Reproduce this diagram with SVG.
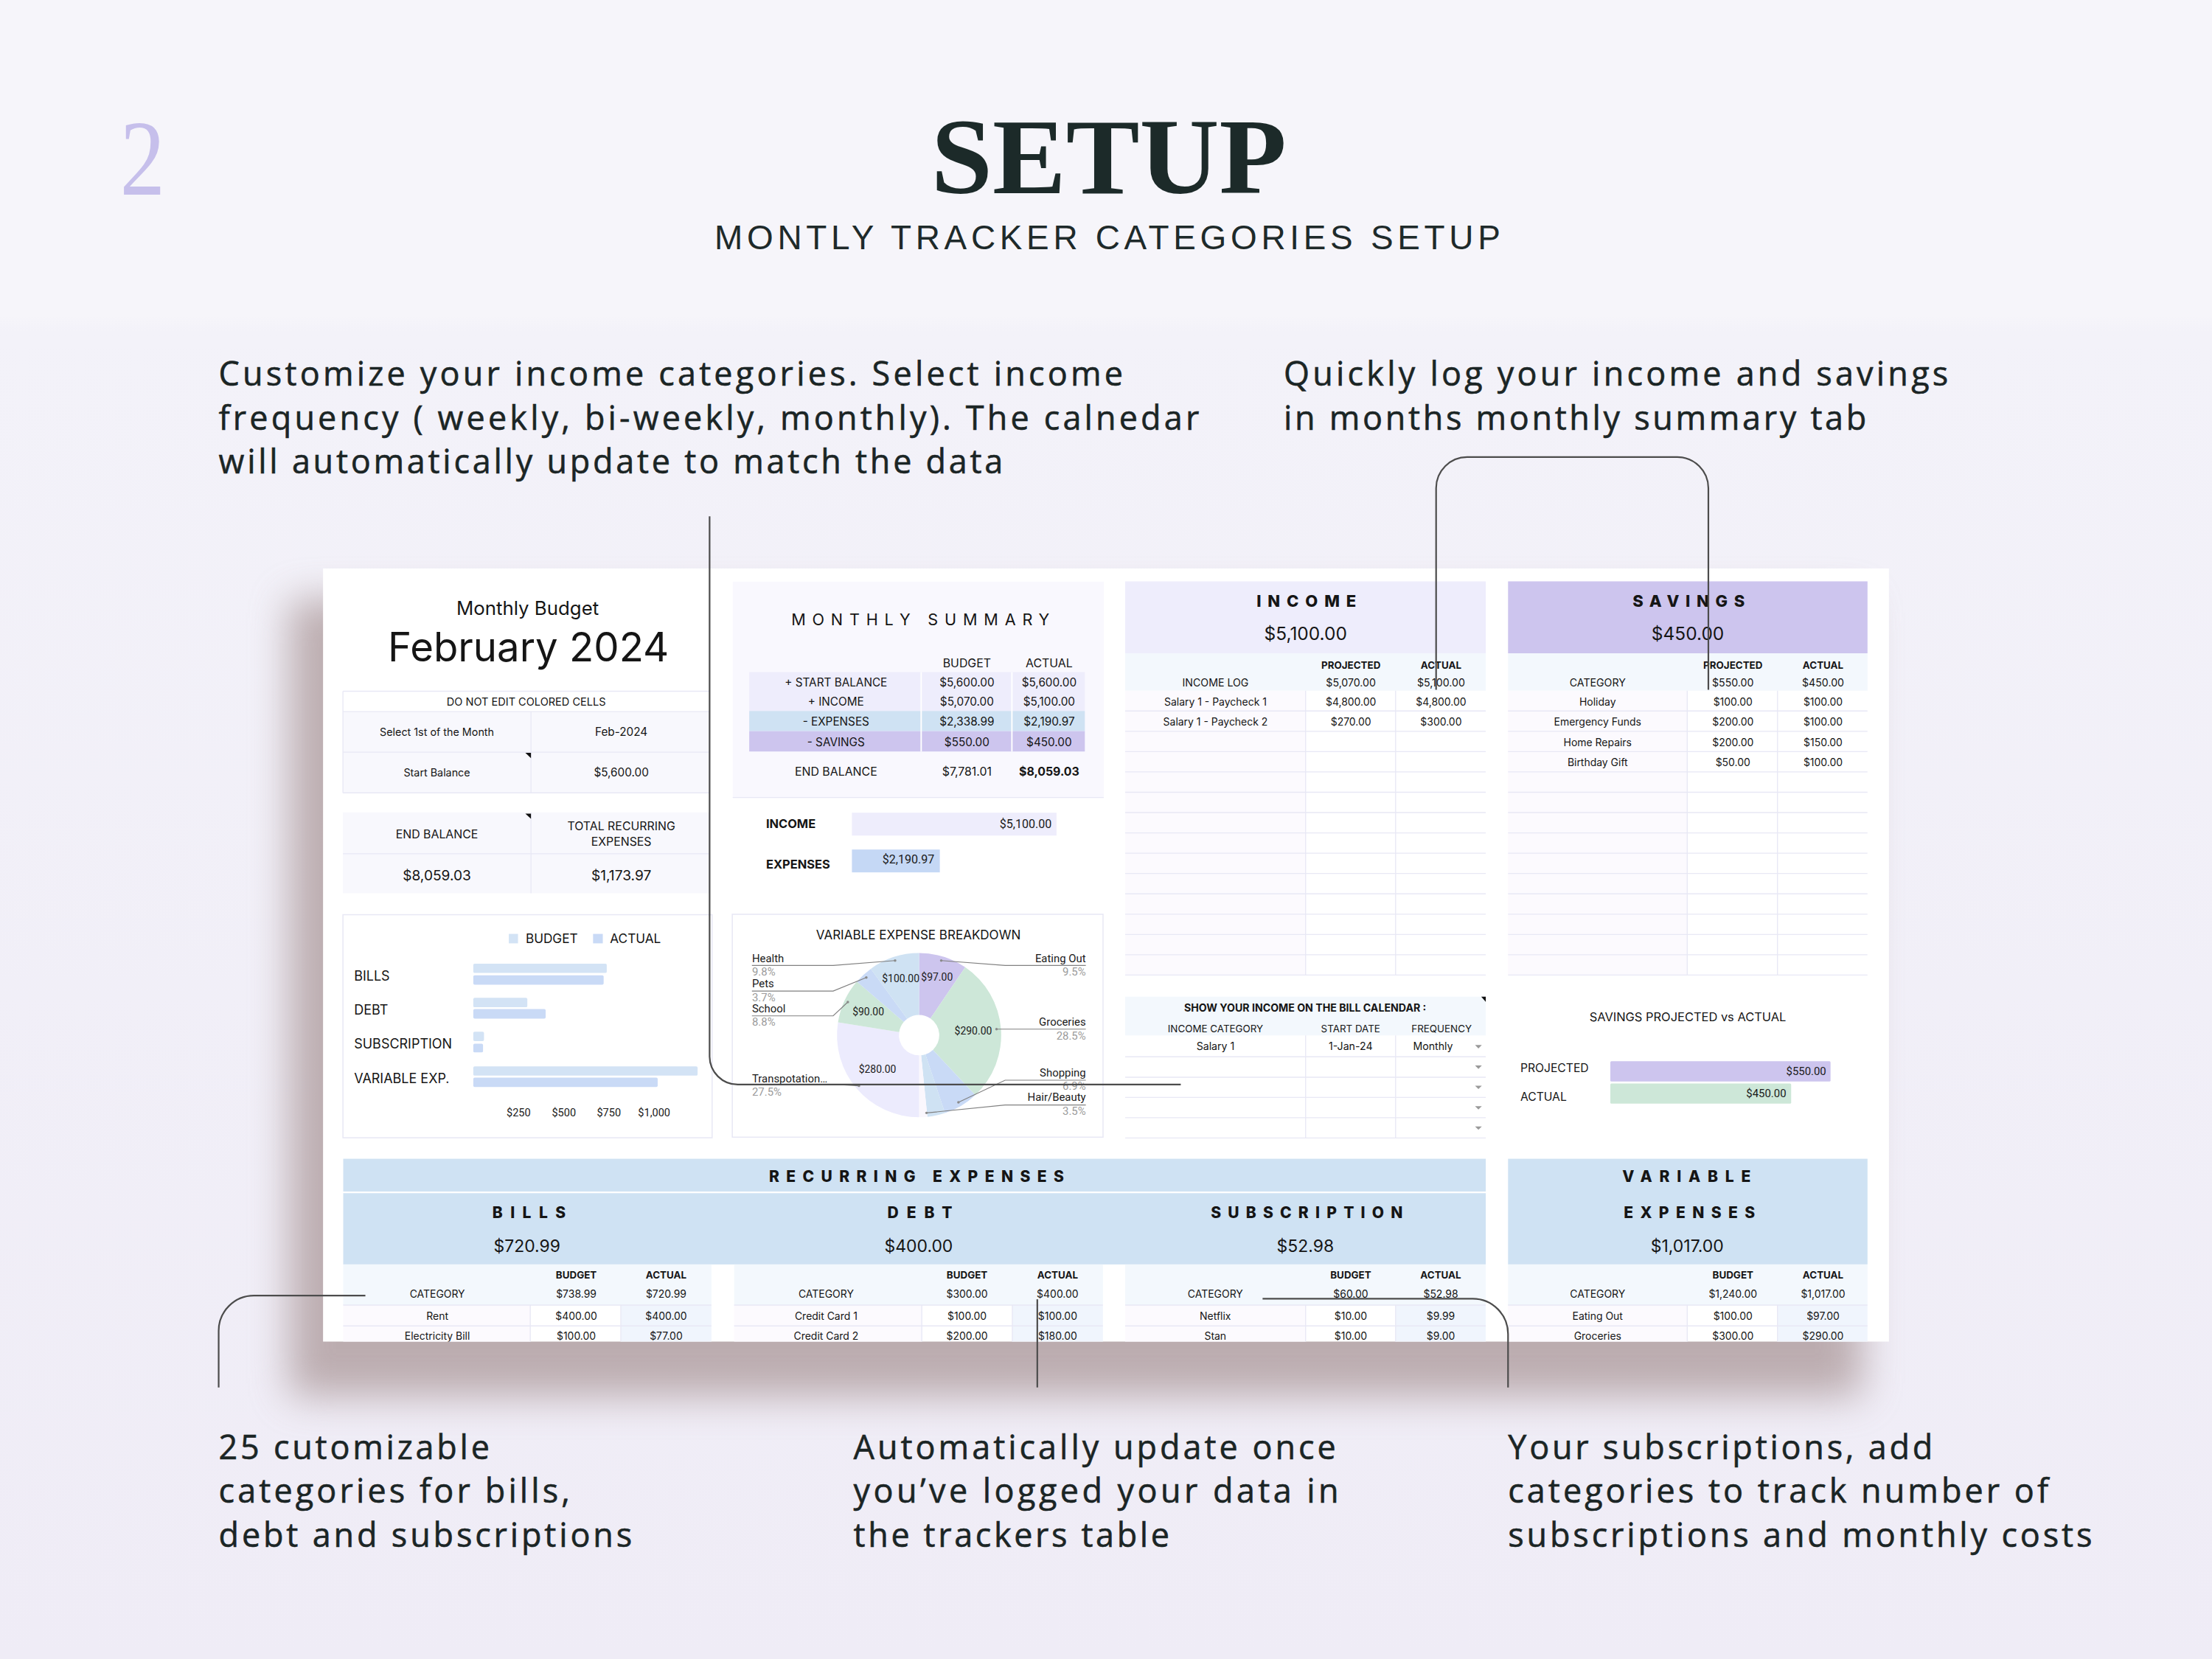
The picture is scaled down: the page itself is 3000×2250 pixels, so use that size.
<svg xmlns="http://www.w3.org/2000/svg" width="3000" height="2250" viewBox="0 0 3000 2250">
<defs>
<linearGradient id="bg" x1="0" y1="0" x2="0" y2="1">
<stop offset="0" stop-color="#f6f5fa"/>
<stop offset="0.19" stop-color="#f6f5fa"/>
<stop offset="0.2" stop-color="#f3f2f9"/>
<stop offset="1" stop-color="#efecf6"/>
</linearGradient>
<filter id="shadow" x="-20%" y="-20%" width="140%" height="140%"><feGaussianBlur stdDeviation="14"/></filter>
<clipPath id="cardclip"><rect x="229" y="403" width="1110" height="548"/></clipPath>
<style>
.ui{font-family:Inter,"DejaVu Sans","Noto Sans",sans-serif;fill:#151515}
.ch{font-family:Roboto,"Liberation Sans",Arial,sans-serif;fill:#1a1a1a}
.m{text-anchor:middle}
.e{text-anchor:end}
.b{font-weight:700}
.hd{font-weight:800}
.ann{font-family:"Open Sans","Liberation Sans",Arial,sans-serif;font-size:23.5px;fill:#1b2525;stroke:#1b2525;stroke-width:0.3}
.grid{stroke:#e8e8f5;stroke-width:0.7;fill:none}
.wsep{stroke:#ffffff;stroke-width:1;fill:none}
.conn{fill:none;stroke:#4c4c4c;stroke-width:1.15}
.lead{fill:none;stroke:#808080;stroke-width:0.6}
.dot{fill:#8a8a8a}
.pct{fill:#9b9b9b}
.lav{fill:#eeedfc}
.pur{fill:#cdc5ee}
.blu{fill:#cfe2f3}
.sub{fill:#f3f8fd}
.pnk{fill:#fcfafe}
.act{fill:#f0f5fd}
.grn{fill:#cde7d8}
.bbar{fill:#d3e3f5}
.abar{fill:#c9daf6}
.dd{fill:#9a9a9a}
</style>
</defs>
<rect width="3000" height="2250" fill="url(#bg)"/>
<g transform="scale(1.913265)">

<g id="header">
<text x="85" y="138" font-family="'Liberation Serif','DejaVu Serif',serif" font-size="76" fill="#c6bfeb" textLength="32" lengthAdjust="spacingAndGlyphs">2</text>
<text x="786" y="136.8" text-anchor="middle" font-family="'Liberation Serif','DejaVu Serif',serif" font-weight="700" font-size="76" fill="#1c2a29" textLength="252" lengthAdjust="spacingAndGlyphs">SETUP</text>
<text x="785" y="176.5" text-anchor="middle" font-family="'Liberation Sans',Arial,sans-serif" font-size="24" fill="#1e2a2a" textLength="557" lengthAdjust="spacing">MONTLY TRACKER CATEGORIES SETUP</text>
</g>

<g id="note-income">
<text class="ann" x="155" y="273.5" textLength="641" lengthAdjust="spacing">Customize your income categories. Select income</text>
<text class="ann" x="155" y="304.5" textLength="695" lengthAdjust="spacing">frequency ( weekly, bi-weekly, monthly). The calnedar</text>
<text class="ann" x="155" y="335.5" textLength="556" lengthAdjust="spacing">will automatically update to match the data</text>
</g>
<g id="note-log">
<text class="ann" x="910" y="273.5" textLength="471" lengthAdjust="spacing">Quickly log your income and savings</text>
<text class="ann" x="910" y="304.5" textLength="413" lengthAdjust="spacing">in months monthly summary tab</text>
</g>
<g id="note-categories">
<text class="ann" x="155" y="1034.3" textLength="192" lengthAdjust="spacing">25 cutomizable</text>
<text class="ann" x="155" y="1065.4" textLength="249" lengthAdjust="spacing">categories for bills,</text>
<text class="ann" x="155" y="1096.6" textLength="293" lengthAdjust="spacing">debt and subscriptions</text>
</g>
<g id="note-update">
<text class="ann" x="605" y="1034.3" textLength="342" lengthAdjust="spacing">Automatically update once</text>
<text class="ann" x="605" y="1065.4" textLength="344" lengthAdjust="spacing">you’ve logged your data in</text>
<text class="ann" x="605" y="1096.6" textLength="224" lengthAdjust="spacing">the trackers table</text>
</g>
<g id="note-subscriptions">
<text class="ann" x="1069" y="1034.3" textLength="301" lengthAdjust="spacing">Your subscriptions, add</text>
<text class="ann" x="1069" y="1065.4" textLength="383" lengthAdjust="spacing">categories to track number of</text>
<text class="ann" x="1069" y="1096.6" textLength="414" lengthAdjust="spacing">subscriptions and monthly costs</text>
</g>

<g id="card-shadow">
<rect x="205" y="425" width="1115" height="565" fill="#a08a8a" opacity="0.65" filter="url(#shadow)"/>
</g>

<g id="card">
<rect x="229" y="403" width="1110" height="548" fill="#ffffff"/>
<g clip-path="url(#cardclip)">

<g id="budget-title">
<text class="ui m" x="374" y="436" font-size="13.5">Monthly Budget</text>
<text class="ui m" x="374.6" y="469" font-size="28.5">February 2024</text>
</g>

<g id="settings-table">
<rect x="243.1" y="504.4" width="259.9" height="57.6" fill="#f8f8fd"/>
<path class="grid" d="M243.1 490H503M243.1 504.4H503M243.1 533.2H503M243.1 562H503M243.1 490V562M376.4 504.4V562"/>
<text class="ui m" x="373" y="500.4" font-size="7.6">DO NOT EDIT COLORED CELLS</text>
<text class="ui m" x="309.7" y="521.7" font-size="7.5">Select 1st of the Month</text>
<text class="ui m" x="440.4" y="521.7" font-size="8">Feb-2024</text>
<text class="ui m" x="309.7" y="550.5" font-size="7.5">Start Balance</text>
<text class="ui m" x="440.4" y="550.5" font-size="8">$5,600.00</text>
<polygon points="372.4,533.7 376.4,533.7 376.4,537.4" fill="#111"/>
</g>

<g id="end-balance">
<rect x="243.1" y="575.9" width="259.9" height="57.3" fill="#f8f8fd"/>
<path class="grid" d="M243.1 605.2H503M376.4 575.9V633.2"/>
<polygon points="372.4,576.7 376.4,576.7 376.4,580.4" fill="#111"/>
<text class="ui m" x="309.7" y="594.5" font-size="8.3">END BALANCE</text>
<text class="ui m" x="440.4" y="588.7" font-size="8.3">TOTAL RECURRING</text>
<text class="ui m" x="440.4" y="599.3" font-size="8.3">EXPENSES</text>
<text class="ui m" x="309.7" y="623.9" font-size="10">$8,059.03</text>
<text class="ui m" x="440.4" y="623.9" font-size="10">$1,173.97</text>
</g>

<g id="category-bar-chart">
<rect x="243.1" y="648.4" width="261.7" height="158.1" fill="#ffffff" stroke="#e8e8f5" stroke-width="0.8"/>
<rect x="360.7" y="662" width="6.5" height="6.7" class="bbar"/>
<text class="ui" x="372.6" y="668.7" font-size="9">BUDGET</text>
<rect x="420.4" y="662" width="6.9" height="6.7" class="abar"/>
<text class="ui" x="432.4" y="668.7" font-size="9">ACTUAL</text>
<text class="ui" x="251" y="695.1" font-size="9.4">BILLS</text>
<text class="ui" x="251" y="719.1" font-size="9.4">DEBT</text>
<text class="ui" x="251" y="743.3" font-size="9.4">SUBSCRIPTION</text>
<text class="ui" x="251" y="767.9" font-size="9.4">VARIABLE EXP.</text>
<rect x="335.5" y="683.1" width="94.6" height="6.6" rx="1" class="bbar"/>
<rect x="335.5" y="691.3" width="92.4" height="6.7" rx="1" class="abar"/>
<rect x="335.5" y="707.3" width="38.3" height="6.7" rx="1" class="bbar"/>
<rect x="335.5" y="715.3" width="51.3" height="6.7" rx="1" class="abar"/>
<rect x="335.5" y="731.3" width="7.6" height="6.7" rx="1" class="bbar"/>
<rect x="335.5" y="739.9" width="6.9" height="6.1" rx="1" class="abar"/>
<rect x="335.5" y="755.9" width="159" height="6.6" rx="1" class="bbar"/>
<rect x="335.5" y="763.9" width="130.7" height="6.6" rx="1" class="abar"/>
<text class="ch m" x="367.6" y="791.3" font-size="7.6">$250</text>
<text class="ch m" x="399.7" y="791.3" font-size="7.6">$500</text>
<text class="ch m" x="431.6" y="791.3" font-size="7.6">$750</text>
<text class="ch m" x="463.7" y="791.3" font-size="7.6">$1,000</text>
</g>

<g id="monthly-summary">
<rect x="519.4" y="412.3" width="263" height="153" fill="#f9f8fe"/>
<path class="grid" d="M519.4 565.3H782.4"/>
<text class="ui m" x="652.4" y="443" font-size="11.3" textLength="183" lengthAdjust="spacing">MONTHLY SUMMARY</text>
<text class="ui m" x="685.4" y="473" font-size="8.3">BUDGET</text>
<text class="ui m" x="743.7" y="473" font-size="8.3">ACTUAL</text>
<rect x="531.1" y="476.4" width="237.9" height="27.6" class="lav"/>
<rect x="531.1" y="504" width="237.9" height="14.3" class="blu"/>
<rect x="531.1" y="518.3" width="237.9" height="14.4" class="pur"/>
<path class="wsep" d="M653 476.4V532.7M717.3 476.4V532.7"/>
<text class="ui m" x="592.6" y="486.4" font-size="8">+ START BALANCE</text>
<text class="ui m" x="685.4" y="486.4" font-size="8">$5,600.00</text>
<text class="ui m" x="743.7" y="486.4" font-size="8">$5,600.00</text>
<text class="ui m" x="592.6" y="500" font-size="8">+ INCOME</text>
<text class="ui m" x="685.4" y="500" font-size="8">$5,070.00</text>
<text class="ui m" x="743.7" y="500" font-size="8">$5,100.00</text>
<text class="ui m" x="592.6" y="514.4" font-size="8">- EXPENSES</text>
<text class="ui m" x="685.4" y="514.4" font-size="8">$2,338.99</text>
<text class="ui m" x="743.7" y="514.4" font-size="8">$2,190.97</text>
<text class="ui m" x="592.6" y="528.7" font-size="8">- SAVINGS</text>
<text class="ui m" x="685.4" y="528.7" font-size="8">$550.00</text>
<text class="ui m" x="743.7" y="528.7" font-size="8">$450.00</text>
<text class="ui m" x="592.6" y="550.1" font-size="8.3">END BALANCE</text>
<text class="ui m" x="685.4" y="550.1" font-size="8.3">$7,781.01</text>
<text class="ui m b" x="743.7" y="550.1" font-size="8.3">$8,059.03</text>
</g>

<g id="income-vs-expenses">
<text class="ui b" x="543" y="587.1" font-size="8.6">INCOME</text>
<rect x="603.9" y="576.1" width="145" height="16.2" class="lav"/>
<text class="ch e" x="745.5" y="586.7" font-size="8.4">$5,100.00</text>
<text class="ui b" x="543" y="615.8" font-size="8.6">EXPENSES</text>
<rect x="603.9" y="602.2" width="62.3" height="16.2" fill="#c5d8f5"/>
<text class="ch e" x="662.4" y="612.3" font-size="8.4">$2,190.97</text>
</g>

<g id="variable-expense-pie">
<rect x="519.1" y="648.1" width="262.8" height="158" fill="#ffffff" stroke="#e8e8f5" stroke-width="0.8"/>
<text class="ui m" x="651" y="665.9" font-size="8.9">VARIABLE EXPENSE BREAKDOWN</text>
<path class="pur" d="M651.5,675.6A58.2,58.2 0 0 1 684.21,685.66L659.54,721.97A14.3,14.3 0 0 0 651.5,719.5Z"/>
<path class="grn" d="M684.21,685.66A58.2,58.2 0 0 1 691.34,776.23L661.29,744.22A14.3,14.3 0 0 0 659.54,721.97Z"/>
<path class="abar" d="M691.34,776.23A58.2,58.2 0 0 1 669.87,789.03L656.01,747.37A14.3,14.3 0 0 0 661.29,744.22Z"/>
<path class="blu" d="M669.87,789.03A58.2,58.2 0 0 1 657.38,791.7L652.95,748.03A14.3,14.3 0 0 0 656.01,747.37Z"/>
<path fill="#faf7fd" d="M657.38,791.7A58.2,58.2 0 0 1 651.5,792L651.5,748.1A14.3,14.3 0 0 0 652.95,748.03Z"/>
<path fill="#ecebfd" d="M651.5,792A58.2,58.2 0 0 1 594.02,724.7L637.38,731.56A14.3,14.3 0 0 0 651.5,748.1Z"/>
<path class="grn" d="M594.02,724.7A58.2,58.2 0 0 1 607.38,695.85L640.66,724.47A14.3,14.3 0 0 0 637.38,731.56Z"/>
<path class="abar" d="M607.38,695.85A58.2,58.2 0 0 1 617.29,686.72L643.09,722.23A14.3,14.3 0 0 0 640.66,724.47Z"/>
<path class="blu" d="M617.29,686.72A58.2,58.2 0 0 1 651.5,675.6L651.5,719.5A14.3,14.3 0 0 0 643.09,722.23Z"/>
<text class="ch m" x="638.5" y="696" font-size="7.3">$100.00</text>
<text class="ch m" x="664.2" y="695.2" font-size="7.3">$97.00</text>
<text class="ch m" x="615.5" y="719.6" font-size="7.3">$90.00</text>
<text class="ch m" x="689.9" y="733.5" font-size="7.3">$290.00</text>
<text class="ch m" x="622" y="760.5" font-size="7.3">$280.00</text>
<path class="lead" d="M533 684.4H590.6L634.5 680.9M533 702.5H590.6L614.1 692.9M533 720.1H590.6L601 710.3M533 768.6H590L608.9 769.7M769.7 684.4H712.5L667.2 680.9M769.7 729.5H706.4M769.7 765.7H712.5L679.4 781.4M769.7 783.3H712.5L656.8 788.9"/>
<circle class="dot" cx="634.5" cy="680.9" r="0.9"/>
<circle class="dot" cx="614.1" cy="692.9" r="0.9"/>
<circle class="dot" cx="601" cy="710.3" r="0.9"/>
<circle class="dot" cx="608.9" cy="769.7" r="0.9"/>
<circle class="dot" cx="667.2" cy="680.9" r="0.9"/>
<circle class="dot" cx="706.4" cy="729.5" r="0.9"/>
<circle class="dot" cx="679.4" cy="781.4" r="0.9"/>
<circle class="dot" cx="656.8" cy="788.9" r="0.9"/>
<text class="ch" x="533.1" y="682.1" font-size="7.8">Health</text>
<text class="ch pct" x="533.1" y="691.7" font-size="7.8">9.8%</text>
<text class="ch" x="533.1" y="700" font-size="7.8">Pets</text>
<text class="ch pct" x="533.1" y="709.6" font-size="7.8">3.7%</text>
<text class="ch" x="533.1" y="717.5" font-size="7.8">School</text>
<text class="ch pct" x="533.1" y="727.2" font-size="7.8">8.8%</text>
<text class="ch" x="533.1" y="767.1" font-size="7.8">Transpotation…</text>
<text class="ch pct" x="533.1" y="776.7" font-size="7.8">27.5%</text>
<text class="ch e" x="769.7" y="682.1" font-size="7.8">Eating Out</text>
<text class="ch pct e" x="769.7" y="691.3" font-size="7.8">9.5%</text>
<text class="ch e" x="769.7" y="726.9" font-size="7.8">Groceries</text>
<text class="ch pct e" x="769.7" y="737" font-size="7.8">28.5%</text>
<text class="ch e" x="769.7" y="763.1" font-size="7.8">Shopping</text>
<text class="ch pct e" x="769.7" y="772.7" font-size="7.8">6.9%</text>
<text class="ch e" x="769.7" y="780.5" font-size="7.8">Hair/Beauty</text>
<text class="ch pct e" x="769.7" y="790.1" font-size="7.8">3.5%</text>
</g>

<g id="income">
<rect x="797.6" y="412.1" width="255.6" height="51" class="lav"/>
<text class="ui m hd" x="926" y="430.3" font-size="11.5" textLength="70.6" lengthAdjust="spacing">INCOME</text>
<text class="ui m" x="925.5" y="453.9" font-size="12.8">$5,100.00</text>
<rect x="797.6" y="463.1" width="255.6" height="26.5" class="sub"/>
<text class="ui m b" x="957.6" y="474" font-size="7">PROJECTED</text>
<text class="ui m b" x="1021.5" y="474" font-size="7">ACTUAL</text>
<text class="ui m" x="861.6" y="486.4" font-size="7.4">INCOME LOG</text>
<text class="ui m" x="957.6" y="486.4" font-size="7.4">$5,070.00</text>
<text class="ui m" x="1021.5" y="486.4" font-size="7.4">$5,100.00</text>
<rect x="797.6" y="489.6" width="127.9" height="201.6" class="pnk"/>
<path class="grid" d="M797.6 504H1053.2M797.6 518.4H1053.2M797.6 532.8H1053.2M797.6 547.2H1053.2M797.6 561.6H1053.2M797.6 576H1053.2M797.6 590.4H1053.2M797.6 604.8H1053.2M797.6 619.2H1053.2M797.6 633.6H1053.2M797.6 648H1053.2M797.6 662.4H1053.2M797.6 676.8H1053.2M797.6 691.2H1053.2M925.5 489.6V691.2M989.3 489.6V691.2"/>
<text class="ui m" x="861.6" y="500" font-size="7.3">Salary 1 - Paycheck 1</text>
<text class="ui m" x="957.6" y="500" font-size="7.3">$4,800.00</text>
<text class="ui m" x="1021.5" y="500" font-size="7.3">$4,800.00</text>
<text class="ui m" x="861.6" y="514.4" font-size="7.3">Salary 1 - Paycheck 2</text>
<text class="ui m" x="957.6" y="514.4" font-size="7.3">$270.00</text>
<text class="ui m" x="1021.5" y="514.4" font-size="7.3">$300.00</text>
</g>

<g id="income-calendar">
<rect x="797.6" y="706.5" width="255.6" height="27.5" class="sub"/>
<polygon points="1050,706.5 1053.2,706.5 1053.2,710.2" fill="#111"/>
<text class="ui m b" x="925.2" y="716.9" font-size="7.4">SHOW YOUR INCOME ON THE BILL CALENDAR :</text>
<text class="ui m" x="861.6" y="731.7" font-size="7">INCOME CATEGORY</text>
<text class="ui m" x="957.4" y="731.7" font-size="7">START DATE</text>
<text class="ui m" x="1021.9" y="731.7" font-size="7">FREQUENCY</text>
<path class="grid" d="M797.6 749.1H1053.2M797.6 763.6H1053.2M797.6 777.9H1053.2M797.6 792.3H1053.2M797.6 806.7H1053.2M925.5 734V806.7M989.3 734V806.7"/>
<text class="ui m" x="861.6" y="744.3" font-size="7.4">Salary 1</text>
<text class="ui m" x="957.4" y="744.3" font-size="7.4">1-Jan-24</text>
<text class="ui m" x="1015.8" y="744.3" font-size="7.4">Monthly</text>
<polygon class="dd" points="1045.6,740.8 1050.4,740.8 1048,743.2"/>
<polygon class="dd" points="1045.6,755.3 1050.4,755.3 1048,757.7"/>
<polygon class="dd" points="1045.6,769.6 1050.4,769.6 1048,772"/>
<polygon class="dd" points="1045.6,784.1 1050.4,784.1 1048,786.5"/>
<polygon class="dd" points="1045.6,798.5 1050.4,798.5 1048,800.9"/>
</g>

<g id="savings">
<rect x="1069" y="412.1" width="254.8" height="51" class="pur"/>
<text class="ui m hd" x="1197" y="430.3" font-size="11.5" textLength="79.5" lengthAdjust="spacing">SAVINGS</text>
<text class="ui m" x="1196.4" y="453.9" font-size="12.8">$450.00</text>
<rect x="1069" y="463.1" width="254.8" height="26.5" class="sub"/>
<text class="ui m b" x="1228.4" y="474" font-size="7">PROJECTED</text>
<text class="ui m b" x="1292.3" y="474" font-size="7">ACTUAL</text>
<text class="ui m" x="1132.5" y="486.4" font-size="7.4">CATEGORY</text>
<text class="ui m" x="1228.4" y="486.4" font-size="7.4">$550.00</text>
<text class="ui m" x="1292.3" y="486.4" font-size="7.4">$450.00</text>
<rect x="1069" y="489.6" width="127" height="201.6" class="pnk"/>
<path class="grid" d="M1069 504H1323.8M1069 518.4H1323.8M1069 532.8H1323.8M1069 547.2H1323.8M1069 561.6H1323.8M1069 576H1323.8M1069 590.4H1323.8M1069 604.8H1323.8M1069 619.2H1323.8M1069 633.6H1323.8M1069 648H1323.8M1069 662.4H1323.8M1069 676.8H1323.8M1069 691.2H1323.8M1196 489.6V691.2M1260 489.6V691.2"/>
<text class="ui m" x="1132.5" y="500" font-size="7.3">Holiday</text>
<text class="ui m" x="1228.4" y="500" font-size="7.3">$100.00</text>
<text class="ui m" x="1292.3" y="500" font-size="7.3">$100.00</text>
<text class="ui m" x="1132.5" y="514.4" font-size="7.3">Emergency Funds</text>
<text class="ui m" x="1228.4" y="514.4" font-size="7.3">$200.00</text>
<text class="ui m" x="1292.3" y="514.4" font-size="7.3">$100.00</text>
<text class="ui m" x="1132.5" y="528.8" font-size="7.3">Home Repairs</text>
<text class="ui m" x="1228.4" y="528.8" font-size="7.3">$200.00</text>
<text class="ui m" x="1292.3" y="528.8" font-size="7.3">$150.00</text>
<text class="ui m" x="1132.5" y="543.2" font-size="7.3">Birthday Gift</text>
<text class="ui m" x="1228.4" y="543.2" font-size="7.3">$50.00</text>
<text class="ui m" x="1292.3" y="543.2" font-size="7.3">$100.00</text>
</g>

<g id="savings-chart">
<text class="ui m" x="1196.4" y="723.9" font-size="8.6">SAVINGS PROJECTED vs ACTUAL</text>
<text class="ui" x="1077.7" y="760" font-size="8.2">PROJECTED</text>
<text class="ui" x="1077.7" y="780.5" font-size="8.2">ACTUAL</text>
<rect x="1141.5" y="752.3" width="156.1" height="14.3" rx="0.8" class="pur"/>
<text class="ch e" x="1294.5" y="762.3" font-size="7.8">$550.00</text>
<rect x="1141.5" y="768" width="128.2" height="14.3" rx="0.8" class="grn"/>
<text class="ch e" x="1266.2" y="777.9" font-size="7.8">$450.00</text>
</g>

<g id="recurring-expenses">
<rect x="243.3" y="821.4" width="809.9" height="23.2" class="blu"/>
<rect x="243.3" y="845.8" width="809.9" height="50.5" class="blu"/>
<text class="ui m hd" x="649.6" y="837.6" font-size="11" textLength="209" lengthAdjust="spacing">RECURRING EXPENSES</text>
<text class="ui m hd" x="375" y="863.7" font-size="11" textLength="52" lengthAdjust="spacing">BILLS</text>
<text class="ui m" x="373.6" y="887.6" font-size="12">$720.99</text>
<text class="ui m hd" x="652" y="863.7" font-size="11" textLength="46" lengthAdjust="spacing">DEBT</text>
<text class="ui m" x="651.2" y="887.6" font-size="12">$400.00</text>
<text class="ui m hd" x="926.3" y="863.7" font-size="11" textLength="136" lengthAdjust="spacing">SUBSCRIPTION</text>
<text class="ui m" x="925.3" y="887.6" font-size="12">$52.98</text>
</g>

<g id="bills">
<rect x="243.3" y="896.3" width="261" height="28.8" class="sub"/>
<rect x="243.3" y="925.1" width="132.6" height="30" class="pnk"/>
<rect x="440.1" y="925.1" width="64.2" height="30" class="act"/>
<path class="grid" d="M243.3 925.1H504.3M243.3 939.9H504.3M375.9 925.1V955M440.1 925.1V955"/>
<text class="ui m b" x="408.5" y="906.2" font-size="7">BUDGET</text>
<text class="ui m b" x="472.2" y="906.2" font-size="7">ACTUAL</text>
<text class="ui m" x="310" y="919.8" font-size="7.3">CATEGORY</text>
<text class="ui m" x="408.5" y="919.8" font-size="7.3">$738.99</text>
<text class="ui m" x="472.2" y="919.8" font-size="7.3">$720.99</text>
<text class="ui m" x="310" y="935.5" font-size="7.3">Rent</text>
<text class="ui m" x="408.5" y="935.5" font-size="7.3">$400.00</text>
<text class="ui m" x="472.2" y="935.5" font-size="7.3">$400.00</text>
<text class="ui m" x="310" y="949.5" font-size="7.3">Electricity Bill</text>
<text class="ui m" x="408.5" y="949.5" font-size="7.3">$100.00</text>
<text class="ui m" x="472.2" y="949.5" font-size="7.3">$77.00</text>
</g>

<g id="debt">
<rect x="520.4" y="896.3" width="261.4" height="28.8" class="sub"/>
<rect x="520.4" y="925.1" width="133" height="30" class="pnk"/>
<rect x="717.6" y="925.1" width="64.2" height="30" class="act"/>
<path class="grid" d="M520.4 925.1H781.8M520.4 939.9H781.8M653.4 925.1V955M717.6 925.1V955"/>
<text class="ui m b" x="685.5" y="906.2" font-size="7">BUDGET</text>
<text class="ui m b" x="749.7" y="906.2" font-size="7">ACTUAL</text>
<text class="ui m" x="585.6" y="919.8" font-size="7.3">CATEGORY</text>
<text class="ui m" x="685.5" y="919.8" font-size="7.3">$300.00</text>
<text class="ui m" x="749.7" y="919.8" font-size="7.3">$400.00</text>
<text class="ui m" x="585.6" y="935.5" font-size="7.3">Credit Card 1</text>
<text class="ui m" x="685.5" y="935.5" font-size="7.3">$100.00</text>
<text class="ui m" x="749.7" y="935.5" font-size="7.3">$100.00</text>
<text class="ui m" x="585.6" y="949.5" font-size="7.3">Credit Card 2</text>
<text class="ui m" x="685.5" y="949.5" font-size="7.3">$200.00</text>
<text class="ui m" x="749.7" y="949.5" font-size="7.3">$180.00</text>
</g>

<g id="subscription">
<rect x="797.6" y="896.3" width="255.6" height="28.8" class="sub"/>
<rect x="797.6" y="925.1" width="127.9" height="30" class="pnk"/>
<rect x="989.3" y="925.1" width="63.9" height="30" class="act"/>
<path class="grid" d="M797.6 925.1H1053.2M797.6 939.9H1053.2M925.5 925.1V955M989.3 925.1V955"/>
<text class="ui m b" x="957.5" y="906.2" font-size="7">BUDGET</text>
<text class="ui m b" x="1021.3" y="906.2" font-size="7">ACTUAL</text>
<text class="ui m" x="861.5" y="919.8" font-size="7.3">CATEGORY</text>
<text class="ui m" x="957.5" y="919.8" font-size="7.3">$60.00</text>
<text class="ui m" x="1021.3" y="919.8" font-size="7.3">$52.98</text>
<text class="ui m" x="861.5" y="935.5" font-size="7.3">Netflix</text>
<text class="ui m" x="957.5" y="935.5" font-size="7.3">$10.00</text>
<text class="ui m" x="1021.3" y="935.5" font-size="7.3">$9.99</text>
<text class="ui m" x="861.5" y="949.5" font-size="7.3">Stan</text>
<text class="ui m" x="957.5" y="949.5" font-size="7.3">$10.00</text>
<text class="ui m" x="1021.3" y="949.5" font-size="7.3">$9.00</text>
</g>

<g id="variable-expenses">
<rect x="1069" y="821.4" width="254.8" height="74.9" class="blu"/>
<text class="ui m hd" x="1195.5" y="837.6" font-size="11" textLength="91" lengthAdjust="spacing">VARIABLE</text>
<text class="ui m hd" x="1197.5" y="863.7" font-size="11" textLength="93" lengthAdjust="spacing">EXPENSES</text>
<text class="ui m" x="1196" y="887.6" font-size="12">$1,017.00</text>
<rect x="1069" y="896.3" width="254.8" height="28.8" class="sub"/>
<rect x="1069" y="925.1" width="127" height="30" class="pnk"/>
<rect x="1260" y="925.1" width="63.8" height="30" class="act"/>
<path class="grid" d="M1069 925.1H1323.8M1069 939.9H1323.8M1196 925.1V955M1260 925.1V955"/>
<text class="ui m b" x="1228.4" y="906.2" font-size="7">BUDGET</text>
<text class="ui m b" x="1292.3" y="906.2" font-size="7">ACTUAL</text>
<text class="ui m" x="1132.5" y="919.8" font-size="7.3">CATEGORY</text>
<text class="ui m" x="1228.4" y="919.8" font-size="7.3">$1,240.00</text>
<text class="ui m" x="1292.3" y="919.8" font-size="7.3">$1,017.00</text>
<text class="ui m" x="1132.5" y="935.5" font-size="7.3">Eating Out</text>
<text class="ui m" x="1228.4" y="935.5" font-size="7.3">$100.00</text>
<text class="ui m" x="1292.3" y="935.5" font-size="7.3">$97.00</text>
<text class="ui m" x="1132.5" y="949.5" font-size="7.3">Groceries</text>
<text class="ui m" x="1228.4" y="949.5" font-size="7.3">$300.00</text>
<text class="ui m" x="1292.3" y="949.5" font-size="7.3">$290.00</text>
</g>

</g>
</g>

<g id="connectors">
<path class="conn" d="M503,366V749A20,20 0 0 0 523,768.8H837"/>
<path class="conn" d="M1018,489V346A22,22 0 0 1 1040,324H1189A22,22 0 0 1 1211,346V489"/>
<path class="conn" d="M259,918.4H180A25,25 0 0 0 155,943.4V983.5"/>
<path class="conn" d="M735.3,921V983.5"/>
<path class="conn" d="M895,920.6H1044A25,25 0 0 1 1069,945.6V983.5"/>
</g>

</g>
</svg>
